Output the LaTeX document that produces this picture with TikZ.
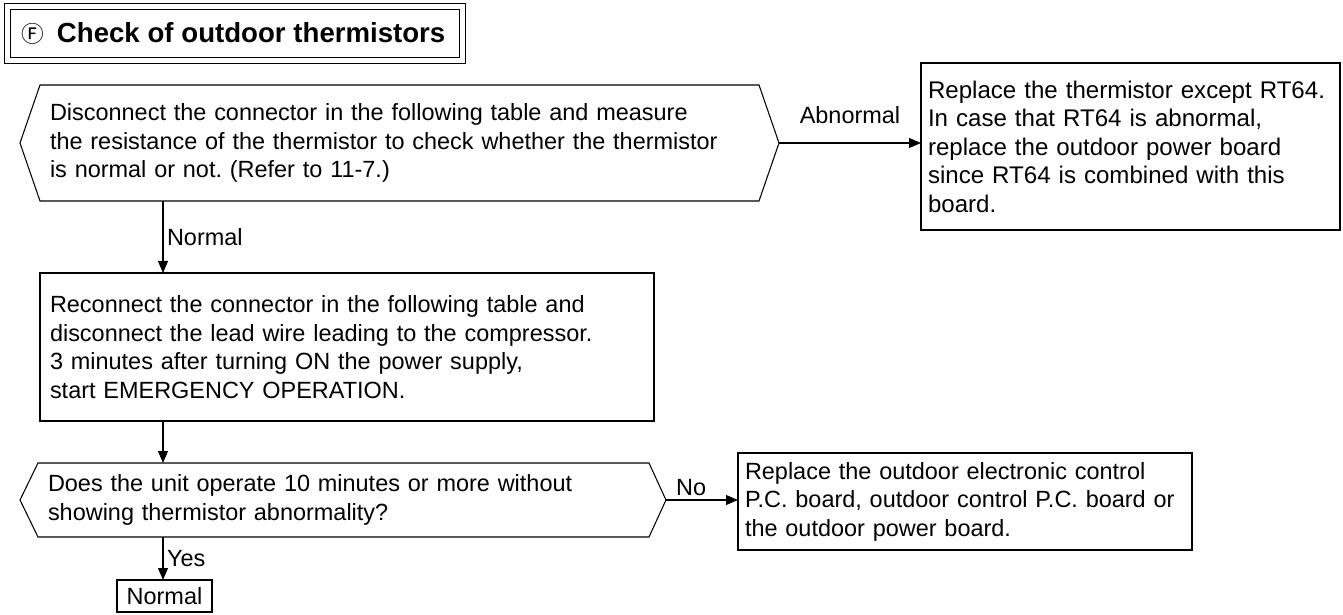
\documentclass[tikz,border=0pt]{standalone}
\usepackage{fontspec}
\setmainfont{Liberation Sans}
\newfontfamily\circfont{Noto Sans CJK JP}
\usepackage{tikz}
\usetikzlibrary{arrows.meta, positioning}
\frenchspacing
\tikzset{
  hexnode/.style={rectangle,draw=none,outer sep=0pt,inner xsep=0.2cm,align=left},
  hexline/.style={line width=0.6pt,black,line join=miter},
  boxnode/.style={rectangle,draw=black,line width=1.1pt,outer sep=0pt,inner xsep=0.14cm,align=left},
  titlebox/.style={rectangle,draw=black,line width=0.55pt,double,double distance=0.1cm,inner xsep=0.29cm,align=left},
  flowedge/.style={-{Triangle[length=0.24cm,width=0.2cm]},line width=0.6pt,black},
  lbl/.style={inner sep=2pt},
}

\begin{document}
\begin{tikzpicture}[font=\fontsize{13.35}{16.2}\selectfont]
  \useasboundingbox (0,0) rectangle (26.86,-12.30);
  \node[titlebox,minimum width=9.10cm,minimum height=1.08cm,text width=8.52cm] (nTitle) at (4.70,-0.67)
    {\mbox{\makebox[0.70cm][l]{\fontsize{12.9}{16}\selectfont\circfont Ⓕ}%
     \fontsize{15.7}{16}\selectfont\textbf{Check of outdoor thermistors}}};
  \node[hexnode,minimum width=14.38cm,minimum height=2.32cm,text width=13.98cm] (nCheck) at (7.99,-2.86)
    {Disconnect the connector in the following table and measure\\
     the resistance of the thermistor to check whether the thermistor\\
     is normal or not. (Refer to 11-7.)};
  \node[boxnode,font=\fontsize{13.7}{16.2}\selectfont,minimum width=8.38cm,minimum height=3.34cm,text width=8.10cm] (nReplaceA) at (22.61,-2.93)
    {Replace the thermistor except RT64.\\
     In case that RT64 is abnormal,\\
     replace the outdoor power board\\
     since RT64 is combined with this\\
     board.};
  \node[boxnode,line width=0.9pt,minimum width=12.28cm,minimum height=2.96cm,text width=11.88cm,inner xsep=0.2cm] (nReconnect) at (6.94,-6.94)
    {Reconnect the connector in the following table and\\
     disconnect the lead wire leading to the compressor.\\
     3 minutes after turning ON the power supply,\\
     start EMERGENCY OPERATION.};
  \node[hexnode,minimum width=12.22cm,minimum height=1.48cm,text width=11.82cm] (nOperate) at (6.87,-10.00)
    {Does the unit operate 10 minutes or more without\\
     showing thermistor abnormality?};
  \node[boxnode,minimum width=9.08cm,minimum height=1.94cm,text width=8.80cm] (nReplaceB) at (19.30,-10.03)
    {Replace the outdoor electronic control\\
     P.C. board, outdoor control P.C. board or\\
     the outdoor power board.};
  \node[boxnode,minimum width=1.90cm,minimum height=0.64cm,align=center] (nNormal) at (3.29,-11.92) {Normal};

  % hexagon outlines
  \coordinate (nCheckL) at ([xshift=-0.4cm]nCheck.west);
  \coordinate (nCheckR) at ([xshift=0.4cm]nCheck.east);
  \coordinate (nOperateL) at ([xshift=-0.36cm]nOperate.west);
  \coordinate (nOperateR) at ([xshift=0.34cm]nOperate.east);
  \draw[hexline] (nCheck.north west) -- (nCheck.north east) -- (nCheckR) -- (nCheck.south east)
    -- (nCheck.south west) -- (nCheckL) -- cycle;
  \draw[hexline] (nOperate.north west) -- (nOperate.north east) -- (nOperateR) -- (nOperate.south east)
    -- (nOperate.south west) -- (nOperateL) -- cycle;

  \coordinate (spine) at (3.26,0);
  \draw[flowedge] (nCheckR) -- node[lbl,above=0.3cm] {Abnormal} (nCheckR -| nReplaceA.west);
  \draw[flowedge] (nCheck.south -| spine) -- node[lbl,right] {Normal} (nReconnect.north -| spine);
  \draw[flowedge] (nReconnect.south -| spine) -- (nOperate.north -| spine);
  \draw[flowedge] (nOperateR) -- node[lbl,above,pos=0.35] {No} (nOperateR -| nReplaceB.west);
  \draw[flowedge] (nOperate.south -| spine) -- node[lbl,right] {Yes} (nNormal.north -| spine);
\end{tikzpicture}
\end{document}
